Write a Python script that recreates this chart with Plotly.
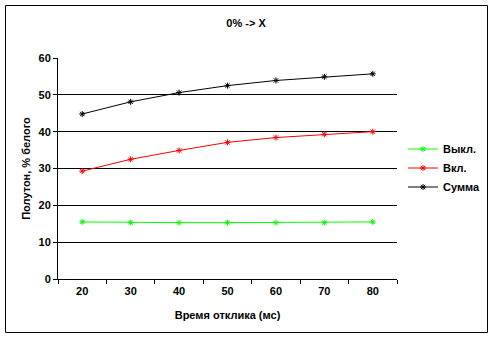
import plotly.graph_objects as go

categories = ["20", "30", "40", "50", "60", "70", "80"]
vykl = [15.5, 15.3, 15.3, 15.3, 15.3, 15.3, 15.5]
vkl = [29.3, 32.5, 34.9, 37.1, 38.4, 39.3, 40.0]
summa = [44.8, 48.1, 50.6, 52.5, 53.9, 54.9, 55.7]
series_names = ["Выкл.", "Вкл.", "Сумма"]
colors = ["#00FF00", "#FF0000", "#000000"]
yticks = [0, 10, 20, 30, 40, 50, 60]

FONT = "Liberation Sans, Arial, sans-serif"

fig = go.Figure()
for name, vals, col in zip(series_names, [vykl, vkl, summa], colors):
    fig.add_trace(go.Scatter(
        x=categories, y=vals, name=name, mode="lines+markers",
        line=dict(color=col, width=1),
        marker=dict(symbol="asterisk-open", size=5, color=col, line=dict(color=col, width=1)),
    ))

W, H = 493, 340
L, R, T, B = 58, 397, 58, 279
fig.update_layout(
    width=W, height=H,
    margin=dict(l=L, r=W - R, t=T, b=H - B, pad=0, autoexpand=False),
    paper_bgcolor="white", plot_bgcolor="white",
    font=dict(family=FONT, size=11, color="black"),
    title=dict(text="<b>0% -> X</b>", x=(246 - 0) / W, xanchor="center",
               y=1 - 23 / H, yanchor="middle", font=dict(size=11)),
    showlegend=True,
    legend=dict(x=(403 - L) / (R - L), xanchor="left", y=(B - 168) / (B - T), yanchor="middle",
                font=dict(size=11, family=FONT, weight="bold"), bgcolor="rgba(0,0,0,0)",
                itemwidth=30, tracegroupgap=0),
    xaxis=dict(type="category", range=[-0.5, 6.5], tickson="boundaries", ticks="outside",
               ticklen=4, tickcolor="black", showline=True, linecolor="black", linewidth=1,
               showgrid=False, zeroline=False, ticklabelstandoff=2,
               tickfont=dict(size=11, family=FONT, weight="bold"),
               title=dict(text="<b>Время отклика (мс)</b>", font=dict(size=11), standoff=15)),
    yaxis=dict(range=[0, 60], tickvals=yticks, ticks="outside", ticklen=4, tickcolor="black",
               showline=True, linecolor="black", linewidth=1,
               showgrid=True, gridcolor="black", gridwidth=1, zeroline=False,
               tickfont=dict(size=11, family=FONT, weight="bold"),
               title=dict(text="<b>Полутон, % белого</b>", font=dict(size=11), standoff=5)),
)
pw, ph = R - L, B - T
fig.add_shape(type="rect", xref="paper", yref="paper",
              x0=(5.5 - L) / pw, x1=(487.5 - L) / pw,
              y0=(B - 332.5) / ph, y1=(B - 5.5) / ph,
              line=dict(color="black", width=1), fillcolor="rgba(0,0,0,0)", layer="below")

fig.write_html("out.html")
